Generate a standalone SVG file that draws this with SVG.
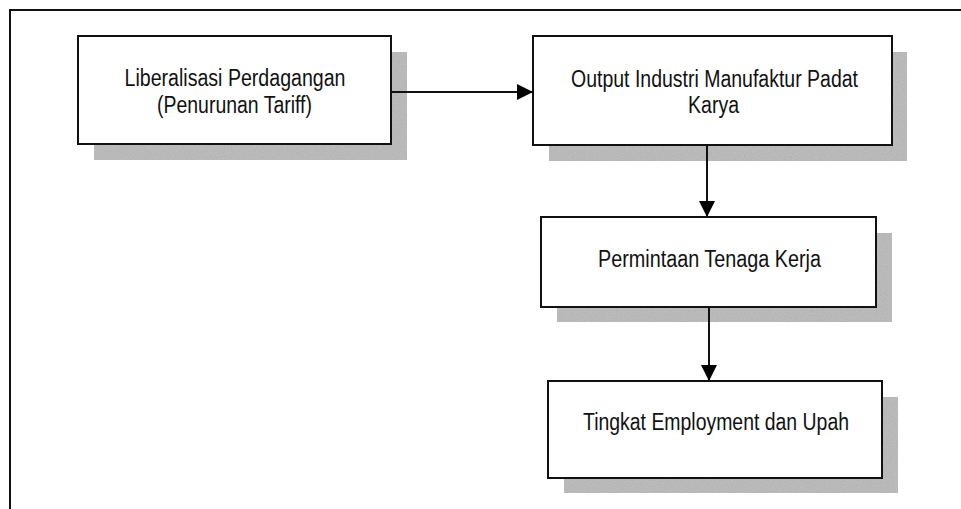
<svg xmlns="http://www.w3.org/2000/svg" width="961" height="509" viewBox="0 0 961 509">
  <defs>
    <filter id="grain" x="0" y="0" width="100%" height="100%">
      <feTurbulence type="fractalNoise" baseFrequency="0.9" numOctaves="2" seed="3" result="n"/>
      <feColorMatrix in="n" type="matrix" values="0 0 0 0 0.55  0 0 0 0 0.55  0 0 0 0 0.55  0 0 0 1.2 -0.3" result="g"/>
      <feComposite in="g" in2="SourceGraphic" operator="in" result="c"/>
      <feMerge><feMergeNode in="SourceGraphic"/><feMergeNode in="c"/></feMerge>
    </filter>
    <marker id="arrow" markerUnits="userSpaceOnUse" markerWidth="16" markerHeight="16" refX="16" refY="8" orient="auto">
      <path d="M0,0 L16,8 L0,16 Z" fill="#000"/>
    </marker>
  </defs>
  <style>
    .frame { fill: none; stroke: #111; stroke-width: 2; }
    .shadow { fill: #b4b4b4; filter: url(#grain); }
    .box { fill: #fff; stroke: #111; stroke-width: 2; }
    .label { font-family: "Liberation Sans", Arial, sans-serif; font-size: 23px; fill: #111; text-anchor: middle; }
    .conn { stroke: #111; stroke-width: 2; fill: none; marker-end: url(#arrow); }
  </style>
  <rect width="961" height="509" fill="#fff"/>
  <path class="frame" d="M10,509 L10,10 L961,10"/>

  <g id="node-liberalisasi">
    <rect class="shadow" x="94" y="52" width="313" height="108"/>
    <rect class="box" x="78" y="36" width="313" height="108"/>
    <text class="label" x="235" y="86" textLength="221" lengthAdjust="spacingAndGlyphs">Liberalisasi Perdagangan</text>
    <text class="label" x="234.5" y="113" textLength="155" lengthAdjust="spacingAndGlyphs">(Penurunan Tariff)</text>
  </g>

  <g id="node-output">
    <rect class="shadow" x="549" y="52" width="358" height="109"/>
    <rect class="box" x="533" y="36" width="359" height="109"/>
    <text class="label" x="714.5" y="87" textLength="287" lengthAdjust="spacingAndGlyphs">Output Industri Manufaktur Padat</text>
    <text class="label" x="713.5" y="113" textLength="51" lengthAdjust="spacingAndGlyphs">Karya</text>
  </g>

  <g id="node-permintaan">
    <rect class="shadow" x="557" y="233" width="335" height="89"/>
    <rect class="box" x="541" y="217" width="335" height="90"/>
    <text class="label" x="709.5" y="267" textLength="223" lengthAdjust="spacingAndGlyphs">Permintaan Tenaga Kerja</text>
  </g>

  <g id="node-tingkat">
    <rect class="shadow" x="564" y="397" width="334" height="96"/>
    <rect class="box" x="548" y="381" width="334" height="97"/>
    <text class="label" x="716" y="430" textLength="266" lengthAdjust="spacingAndGlyphs">Tingkat Employment dan Upah</text>
  </g>

  <g id="connectors">
    <line class="conn" x1="391" y1="92" x2="533" y2="92"/>
    <line class="conn" x1="707" y1="145" x2="707" y2="217"/>
    <line class="conn" x1="709" y1="307" x2="709" y2="381"/>
  </g>
</svg>
